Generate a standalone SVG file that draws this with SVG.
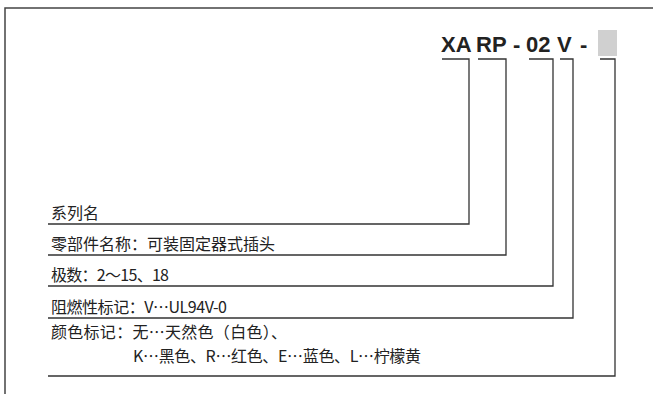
<svg xmlns="http://www.w3.org/2000/svg" width="653" height="394" viewBox="0 0 653 394" xml:lang="zh-CN">
<style>
.frame{fill:none;stroke:#444;stroke-width:1.5}
.lbl{font-family:"Noto Sans CJK SC","Noto Sans",sans-serif;font-size:16px;fill:#222}
.code{font-family:"Liberation Sans",Arial,sans-serif;font-size:22px;font-weight:bold;fill:#222}
.con{fill:none;stroke:#333;stroke-width:1.3}
</style>
<rect width="653" height="394" fill="#fff"/>
<path class="frame" d="M5,394 V8 H653"/>
<g id="code">
<text class="code" x="441" y="52">XA</text>
<text class="code" x="476" y="52">RP</text>
<text class="code" x="513" y="52">-</text>
<text class="code" x="526" y="52">02</text>
<text class="code" x="557" y="52">V</text>
<text class="code" x="580" y="52">-</text>
<rect x="598" y="30" width="19" height="26" fill="#d0d0d0"/>
</g>
<g id="connectors">
<path class="con" d="M442,59 H469 V224 H48"/>
<path class="con" d="M478,59 H506 V255 H48"/>
<path class="con" d="M529,59 H553 V286 H48"/>
<path class="con" d="M560,59 H573 V318 H48"/>
<path class="con" d="M600,59 H615 V376 H48"/>
</g>
<g id="n1"><text class="lbl" x="51" y="219">系列名</text></g>
<g id="n2"><text class="lbl" x="51" y="250" textLength="224" lengthAdjust="spacing">零部件名称：可装固定器式插头</text></g>
<g id="n3"><text class="lbl" x="51" y="281" textLength="118" lengthAdjust="spacing">极数：2～15、18</text></g>
<g id="n4"><text class="lbl" x="51" y="313" textLength="176" lengthAdjust="spacing">阻燃性标记：V…UL94V-0</text></g>
<g id="n5"><text class="lbl" x="51" y="338" textLength="236" lengthAdjust="spacing">颜色标记：无…天然色（白色）、</text>
<text class="lbl" x="133" y="362" textLength="288" lengthAdjust="spacing">K…黑色、R…红色、E…蓝色、L…柠檬黄</text></g>
</svg>
